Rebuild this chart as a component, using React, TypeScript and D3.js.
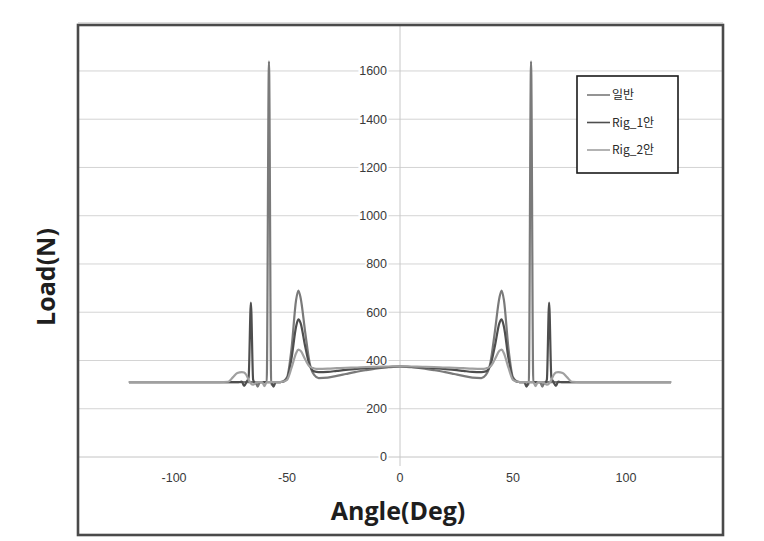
import React from "react";
import * as d3 from "d3";

const angles = [
  -120, -80, -76, -74, -72, -70, -69, -68, -67, -66, -65, -64, -63, -62, -61, -60, -59, -58, -57, -56, -55, -54, -52, -50, -48, -46, -45, -44, -42, -40, -38, -36, -32, -28, -24, -20, -15, -10, -5, 0,
  5, 10, 15, 20, 24, 28, 32, 36, 38, 40, 42, 44, 45, 46, 48, 50, 52, 54, 55, 56, 57, 58, 59, 60, 61, 62, 63, 64, 65, 66, 67, 68, 69, 70, 72, 74, 76, 80, 120,
];

const loadGeneral = [
  310, 310, 310, 310, 310, 310, 310, 310, 310, 310, 310, 310, 292, 310, 310, 310, 310, 1640, 300, 310, 310, 310, 312, 330, 450, 650, 690, 660, 520, 390, 340, 327, 329, 336, 344, 352, 360, 367, 372, 375,
  372, 367, 360, 352, 344, 336, 329, 327, 340, 390, 520, 660, 690, 650, 450, 330, 312, 310, 310, 310, 300, 1640, 310, 310, 310, 310, 292, 310, 310, 310, 310, 310, 310, 310, 310, 310, 310, 310, 310,
];

const loadRig1 = [
  310, 310, 310, 310, 310, 312, 295, 310, 330, 640, 320, 305, 310, 310, 310, 310, 310, 310, 310, 292, 310, 310, 312, 325, 410, 540, 570, 555, 460, 380, 355, 352, 353, 357, 361, 364, 368, 371, 373, 375,
  373, 371, 368, 364, 361, 357, 353, 352, 355, 380, 460, 555, 570, 540, 410, 325, 312, 310, 310, 292, 310, 310, 310, 310, 310, 310, 310, 305, 320, 640, 330, 310, 295, 312, 310, 310, 310, 310, 310,
];

const loadRig2 = [
  310, 310, 312, 330, 348, 352, 350, 340, 320, 305, 300, 305, 310, 310, 310, 294, 310, 310, 310, 310, 310, 310, 312, 320, 370, 430, 445, 440, 405, 375, 367, 365, 366, 368, 370, 371, 373, 374, 375, 376,
  375, 374, 373, 371, 370, 368, 366, 365, 367, 375, 405, 440, 445, 430, 370, 320, 312, 310, 310, 310, 310, 310, 310, 294, 310, 310, 310, 305, 300, 305, 320, 340, 350, 352, 348, 330, 312, 310, 310,
];

const seriesNames = ["일반", "Rig_1안", "Rig_2안"];
const seriesColors = ["#7a7a7a", "#4e4e4e", "#a0a0a0"];
const seriesValues = [loadGeneral, loadRig1, loadRig2];

const yTicks = [0, 200, 400, 600, 800, 1000, 1200, 1400, 1600, 1800];
const yLabelTicks = [0, 200, 400, 600, 800, 1000, 1200, 1400, 1600];
const xTicks = [-100, -50, 0, 50, 100];

export default function App() {
  const W = 764;
  const H = 541;
  const frame = { l: 78, t: 25, r: 723, b: 535 };
  const x = d3.scaleLinear().domain([-142.3, 142.3]).range([78.5, 721.5]);
  const y = d3.scaleLinear().domain([0, 1800]).range([457, 22.7]);
  const line = d3
    .line<number>()
    .x((_, i) => x(angles[i]))
    .y((v) => y(v))
    .curve(d3.curveMonotoneX);

  const tickFont = "'Liberation Sans', Arial, sans-serif";
  const titleFont = "'Open Sans', 'DejaVu Sans', sans-serif";

  return (
    <svg
      width={W}
      height={H}
      style={{ position: "absolute", left: 0, top: 0, background: "#fff" }}
    >
      <rect x={0} y={0} width={W} height={H} fill="#fff" />
      {yTicks.map((t) => (
        <line
          key={"g" + t}
          x1={frame.l}
          x2={frame.r}
          y1={y(t)}
          y2={y(t)}
          stroke={t === 0 ? "#c4c4c4" : "#d4d4d4"}
          strokeWidth={1}
        />
      ))}
      <line x1={x(0)} x2={x(0)} y1={frame.t} y2={466} stroke="#c8c8c8" strokeWidth={1} />
      {yLabelTicks.map((t) => (
        <text
          key={"yl" + t}
          x={x(0) - 13}
          y={y(t)}
          dy="0.35em"
          textAnchor="end"
          fontFamily={tickFont}
          fontSize={12.5}
          fill="#3a3a3a"
          stroke="#fff"
          strokeWidth={4}
          paintOrder="stroke"
        >
          {t}
        </text>
      ))}
      {xTicks.map((t) => (
        <text
          key={"xl" + t}
          x={x(t)}
          y={482}
          textAnchor="middle"
          fontFamily={tickFont}
          fontSize={12.5}
          fill="#3a3a3a"
        >
          {t}
        </text>
      ))}
      {seriesValues.map((vals, i) => (
        <path
          key={"s" + i}
          d={line(vals) || ""}
          fill="none"
          stroke={seriesColors[i]}
          strokeWidth={2.2}
          strokeLinejoin="round"
        />
      ))}
      <text
        x={398}
        y={520}
        textAnchor="middle"
        fontFamily={titleFont}
        fontWeight="bold"
        fontSize={25}
        fill="#1e1e1e"
      >
        Angle(Deg)
      </text>
      <text
        transform={`translate(55,${277}) rotate(-90)`}
        textAnchor="middle"
        fontFamily={titleFont}
        fontWeight="bold"
        fontSize={25}
        fill="#1e1e1e"
      >
        Load(N)
      </text>
      <rect x={577} y={76} width={101} height={97} fill="#fff" stroke="#1a1a1a" strokeWidth={1.6} />
      {seriesNames.map((n, i) => (
        <g key={"lg" + i}>
          <line
            x1={587}
            x2={610}
            y1={95 + i * 27.5}
            y2={95 + i * 27.5}
            stroke={seriesColors[i]}
            strokeWidth={1.6}
          />
          <text
            x={612}
            y={95 + i * 27.5}
            dy="0.35em"
            fontFamily="'Noto Sans CJK KR', 'Noto Sans', sans-serif"
            fontSize={12}
            fill="#2a2a2a"
          >
            {n}
          </text>
        </g>
      ))}
      <rect
        x={frame.l}
        y={frame.t}
        width={frame.r - frame.l}
        height={frame.b - frame.t}
        fill="none"
        stroke="#4a4a4a"
        strokeWidth={2.6}
      />
    </svg>
  );
}
